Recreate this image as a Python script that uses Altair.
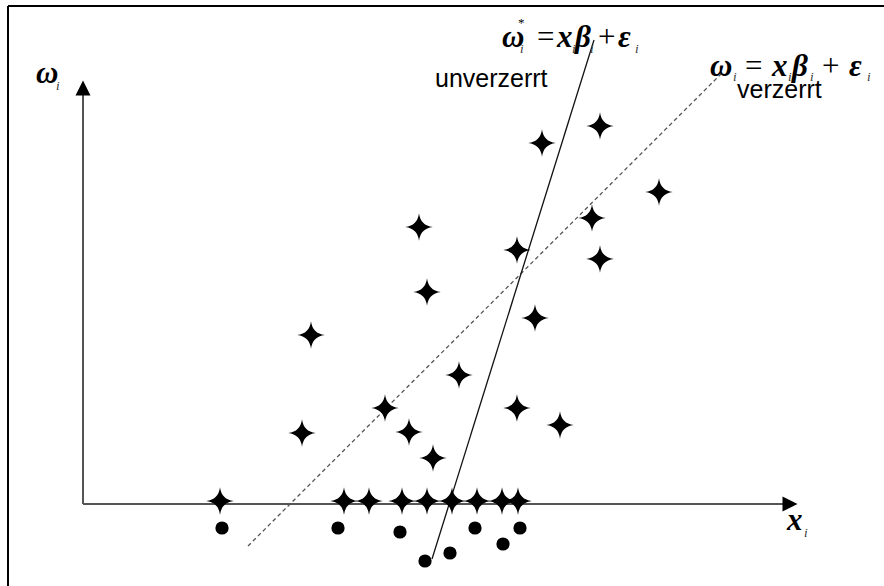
import altair as alt
import pandas as pd

# ---- data (origin at the crossing of the two axes) ----
star_x = [228, 219, 302, 326, 350, 376, 336, 344, 434, 434, 452, 477, 459, 517, 509, 517, 576,
          137, 261, 286, 319, 344, 369, 394, 419, 435]
star_y = [169, 71, 96, 72, 46, 129, 277, 212, 254, 96, 186, 79, 361, 378, 286, 245, 312,
          3, 3, 3, 3, 3, 3, 3, 3, 3]
dot_x = [139, 255, 317, 342, 367, 392, 420, 437]
dot_y = [-24, -24, -28, -57, -49, -24, -40, -24]
solid_x = [349, 511]
solid_y = [-55, 464]
dashed_x = [165, 639]
dashed_y = [-42, 431]
axis_end_x = 702
axis_end_y = 409

XS = alt.Scale(domain=[-83, 801], nice=False, zero=False)
YS = alt.Scale(domain=[-82, 504], nice=False, zero=False)


def X(f="x"):
    return alt.X(f"{f}:Q", scale=XS, axis=None)


def Y(f="y"):
    return alt.Y(f"{f}:Q", scale=YS, axis=None)


stars = alt.Chart(pd.DataFrame({"x": star_x, "y": star_y})).mark_point(
    shape="M0,-1 Q0.11,-0.11 1,0 Q0.11,0.11 0,1 Q-0.11,0.11 -1,0 Q-0.11,-0.11 0,-1 Z",
    filled=True, color="black", opacity=1, size=760, strokeWidth=0
).encode(x=X(), y=Y())

dots = alt.Chart(pd.DataFrame({"x": dot_x, "y": dot_y})).mark_circle(
    color="black", opacity=1, size=175
).encode(x=X(), y=Y())

solid = alt.Chart(pd.DataFrame({"x": solid_x, "y": solid_y})).mark_line(
    color="#111", strokeWidth=1.3
).encode(x=X(), y=Y())

dashed = alt.Chart(pd.DataFrame({"x": dashed_x, "y": dashed_y})).mark_line(
    color="#555", strokeWidth=1.3, strokeDash=[4, 3]
).encode(x=X(), y=Y())

axes_df = pd.DataFrame({"x": [0, 0], "y": [0, 0], "x2": [0, axis_end_x], "y2": [axis_end_y, 0]})
axes = alt.Chart(axes_df).mark_rule(color="#555", strokeWidth=2).encode(
    x=X(), y=Y(), x2="x2:Q", y2="y2:Q")

arrow_up = alt.Chart(pd.DataFrame({"x": [0], "y": [axis_end_y + 7]})).mark_point(
    shape="M-1,1 L1,1 L0,-1 Z", filled=True, color="black", opacity=1, size=225, strokeWidth=0
).encode(x=X(), y=Y())
arrow_right = alt.Chart(pd.DataFrame({"x": [axis_end_x + 5], "y": [0]})).mark_point(
    shape="M-1,-1 L1,0 L-1,1 Z", filled=True, color="black", opacity=1, size=225, strokeWidth=0
).encode(x=X(), y=Y())

border_df = pd.DataFrame({"x": [-75, -75], "y": [498, 498], "x2": [801, -75], "y2": [498, -82]})
border = alt.Chart(border_df).mark_rule(color="black", strokeWidth=2).encode(
    x=X(), y=Y(), x2="x2:Q", y2="y2:Q")


def text_layer(rows, color="black", **kw):
    df = pd.DataFrame(rows, columns=["x", "y", "t"])
    return alt.Chart(df).mark_text(align="left", baseline="alphabetic", color=color, **kw).encode(
        x=X(), y=Y(), text="t:N")


# bold italic math symbols
math_bi = text_layer([
    [-47, 421, "ω"], [704, -26, "x"],
    [419, 457, "ω"], [474, 457, "x"], [492, 457, "β"], [535, 457, "ε"],
    [627, 428, "ω"], [689, 428, "x"], [709, 428, "β"], [766, 428, "ε"],
], font="Liberation Serif", fontStyle="italic", fontWeight="bold", fontSize=31)

math_reg = text_layer([
    [454, 457, "="], [515, 457, "+"],
    [662, 428, "="], [739, 428, "+"],
], font="Liberation Serif", fontSize=31)

subs = text_layer([
    [-27, 414, "i"], [721, -33, "i"],
    [437, 451, "i"], [489, 451, "i"], [507, 451, "i"], [552, 451, "i"],
    [650, 423, "i"], [705, 423, "i"], [727, 423, "i"], [784, 423, "i"],
], color="#333", font="Liberation Serif", fontStyle="italic", fontSize=13)

star_sym = text_layer([[435, 477, "*"]], font="Liberation Serif", fontSize=13)

labels = text_layer([
    [352, 417, "unverzerrt"], [654, 406, "verzerrt"],
], font="Liberation Sans", fontSize=25)

chart = alt.layer(
    border, dashed, solid, axes, arrow_up, arrow_right, dots, stars,
    math_bi, math_reg, subs, star_sym, labels
).properties(
    width=884, height=586, padding=0,
    autosize=alt.AutoSizeParams(type="none"),
    background="white"
).configure_view(stroke=None)

chart.save("out.html", embed_options={"renderer": "svg", "actions": False})
